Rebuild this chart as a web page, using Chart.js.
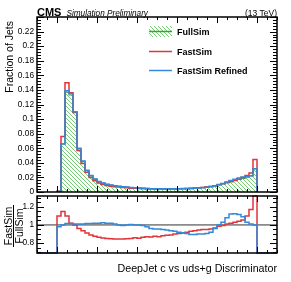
<!DOCTYPE html>
<html>
<head>
<meta charset="utf-8">
<script src="https://cdn.jsdelivr.net/npm/chart.js@4.4.1/dist/chart.umd.min.js"></script>
<style>
  html, body { margin: 0; padding: 0; background: #fff; }
  #wrap { position: relative; width: 291px; height: 282px; }
  canvas { position: absolute; left: 0; }
  #topChart { top: 0; }
  #ratioChart { top: 194px; }
</style>
</head>
<body>
<div id="wrap">
  <canvas id="topChart" width="291" height="194"></canvas>
  <canvas id="ratioChart" width="291" height="88"></canvas>
</div>
<script>
// binning of the discriminator (50 bins of 0.02 from 0 to 1)
const binLow = 0;
const binWidth = 0.02;

// fraction of jets per bin
const fullSim = [0.0008, 0.066, 0.137, 0.133, 0.109, 0.059, 0.042, 0.0295, 0.0222, 0.0176,
  0.0142, 0.0122, 0.0106, 0.0094, 0.0086, 0.0079, 0.0073, 0.0067, 0.0062, 0.0058,
  0.0055, 0.0052, 0.0050, 0.0048, 0.0047, 0.0046, 0.0045, 0.0045, 0.0045, 0.0046,
  0.0047, 0.0049, 0.0051, 0.0053, 0.0056, 0.0060, 0.0065, 0.0071, 0.0078, 0.0088,
  0.0102, 0.0115, 0.0128, 0.0142, 0.0156, 0.0172, 0.0188, 0.0205, 0.0222, 0.0320];
const fastSim = [0.0009, 0.076, 0.150, 0.136, 0.109, 0.057, 0.039, 0.027, 0.0198, 0.0154,
  0.0123, 0.0104, 0.0090, 0.0080, 0.0073, 0.0067, 0.0062, 0.0057, 0.0053, 0.0050,
  0.0047, 0.0045, 0.0044, 0.0042, 0.0041, 0.0040, 0.0040, 0.0040, 0.0040, 0.0041,
  0.0043, 0.0045, 0.0047, 0.0049, 0.0052, 0.0057, 0.0062, 0.0067, 0.0074, 0.0085,
  0.0100, 0.0114, 0.0129, 0.0145, 0.0161, 0.0179, 0.0198, 0.0226, 0.0260, 0.0445];
const fastSimRefined = [0.0008, 0.066, 0.139, 0.135, 0.110, 0.060, 0.0425, 0.030, 0.0225, 0.018,
  0.0145, 0.0125, 0.0108, 0.0096, 0.0087, 0.0079, 0.0073, 0.0067, 0.0062, 0.0058,
  0.0055, 0.0052, 0.0049, 0.0046, 0.0045, 0.0044, 0.0043, 0.0043, 0.0042, 0.0043,
  0.0043, 0.0045, 0.0046, 0.0047, 0.0050, 0.0054, 0.0059, 0.0064, 0.0072, 0.0084,
  0.0102, 0.0118, 0.0138, 0.0159, 0.0176, 0.0192, 0.0205, 0.0211, 0.0224, 0.0320];

// FastSim / FullSim ratios per bin
const ratioFast = [1.10, 1.15, 1.10, 1.02, 1.00, 0.96, 0.935, 0.91, 0.89, 0.875,
  0.865, 0.855, 0.85, 0.848, 0.845, 0.845, 0.845, 0.848, 0.85, 0.858,
  0.852, 0.865, 0.87, 0.868, 0.875, 0.87, 0.88, 0.885, 0.89, 0.90,
  0.905, 0.91, 0.92, 0.93, 0.935, 0.945, 0.95, 0.95, 0.955, 0.965,
  0.985, 0.995, 1.01, 1.02, 1.03, 1.04, 1.055, 1.10, 1.17, 1.40];
const ratioRefined = [0.98, 1.00, 1.015, 1.015, 1.01, 1.01, 1.01, 1.015, 1.015, 1.02,
  1.02, 1.025, 1.02, 1.02, 1.01, 1.00, 0.995, 1.00, 1.005, 1.00,
  1.00, 0.995, 0.98, 0.96, 0.955, 0.955, 0.95, 0.945, 0.935, 0.93,
  0.92, 0.915, 0.905, 0.895, 0.895, 0.90, 0.90, 0.905, 0.92, 0.96,
  1.00, 1.03, 1.08, 1.12, 1.125, 1.115, 1.09, 1.03, 1.01, 1.00];

// axis ranges and tick labels
const xRange = [-0.1, 1.1];
const yRange = [0, 0.24];
const ratioRange = [0.69, 1.32];
const xTickLabels = [0, 0.2, 0.4, 0.6, 0.8, 1];

const FONT = "'Liberation Sans', Arial, Helvetica, sans-serif";
const RED = '#e1343b';
const BLUE = '#3388dc';
const GREEN = '#3f9f3f';

function fmt(v) {
  return String(+v.toFixed(2));
}

function stepPoints(values) {
  const end = binLow + values.length * binWidth;
  const pts = [{x: binLow, y: 0}];
  values.forEach((v, i) => pts.push({x: binLow + i * binWidth, y: v}));
  pts.push({x: end, y: values[values.length - 1]});
  pts.push({x: end, y: 0});
  return pts;
}

function ratioPoints(values) {
  const lo = ratioRange[0], hi = ratioRange[1];
  const c = v => Math.min(Math.max(v, lo), hi);
  const end = binLow + values.length * binWidth;
  const pts = [{x: xRange[0], y: lo}, {x: binLow, y: lo}];
  values.forEach((v, i) => pts.push({x: binLow + i * binWidth, y: c(v)}));
  pts.push({x: end, y: c(values[values.length - 1])});
  pts.push({x: end, y: lo});
  pts.push({x: xRange[1], y: lo});
  return pts;
}

function hatchPattern(color) {
  const s = 4;
  const c = document.createElement('canvas');
  c.width = s; c.height = s;
  const g = c.getContext('2d');
  g.strokeStyle = color;
  g.lineWidth = 1;
  g.beginPath();
  g.moveTo(-1, -1); g.lineTo(s + 1, s + 1);
  g.moveTo(-1, s - 1); g.lineTo(1, s + 1);
  g.moveTo(s - 1, -1); g.lineTo(s + 1, 1);
  g.stroke();
  return g.createPattern(c, 'repeat');
}
const hatch = hatchPattern('#7acb7a');

// no automatic room for the end tick labels: the plot area is fixed
function fixScale(size, horizontal) {
  return s => {
    if (horizontal) { s.height = size; } else { s.width = size; }
    s.paddingTop = 0; s.paddingBottom = 0;
    s.paddingLeft = 0; s.paddingRight = 0;
  };
}

// inward ROOT-style ticks on all four sides plus the frame
function drawTicks(ctx, scale, a, horizontal, step, sub, major, minor) {
  const minorStep = step / sub;
  const start = Math.ceil(scale.min / minorStep - 1e-6);
  const stop = Math.floor(scale.max / minorStep + 1e-6);
  for (let k = start; k <= stop; k++) {
    const v = k * minorStep;
    const len = (k % sub === 0) ? major : minor;
    const p = Math.round(scale.getPixelForValue(v)) + 0.5;
    if (horizontal) {
      ctx.moveTo(p, a.bottom); ctx.lineTo(p, a.bottom - len);
      ctx.moveTo(p, a.top); ctx.lineTo(p, a.top + len);
    } else {
      ctx.moveTo(a.left, p); ctx.lineTo(a.left + len, p);
      ctx.moveTo(a.right, p); ctx.lineTo(a.right - len, p);
    }
  }
}

const frameTicks = {
  id: 'frameTicks',
  afterDraw(chart, args, opts) {
    const {ctx, chartArea: a, scales} = chart;
    ctx.save();
    ctx.strokeStyle = '#000';
    ctx.lineWidth = 1;
    ctx.beginPath();
    drawTicks(ctx, scales.x, a, true, 0.2, 4, opts.xMajor, opts.xMinor);
    drawTicks(ctx, scales.y, a, false, opts.yStep, opts.ySub, 7, 4);
    ctx.stroke();
    ctx.lineWidth = 1.5;
    ctx.strokeRect(a.left, a.top, a.right - a.left, a.bottom - a.top);
    ctx.restore();
  }
};

const topDecor = {
  id: 'topDecor',
  afterDraw(chart) {
    const {ctx} = chart;
    ctx.save();
    ctx.fillStyle = '#000';
    ctx.textBaseline = 'alphabetic';
    ctx.font = 'bold 11px ' + FONT;
    ctx.textAlign = 'left';
    ctx.fillText('CMS', 37, 15.5);
    ctx.font = 'italic 8.2px ' + FONT;
    ctx.fillText('Simulation Preliminary', 66.5, 15.5);
    ctx.font = '8.5px ' + FONT;
    ctx.textAlign = 'right';
    ctx.fillText('(13 TeV)', 277, 15.5);

    // y title
    ctx.save();
    ctx.translate(10, 21);
    ctx.rotate(-Math.PI / 2);
    ctx.font = '10.5px ' + FONT;
    ctx.textAlign = 'right';
    ctx.textBaseline = 'middle';
    ctx.fillText('Fraction of Jets', 0, 0);
    ctx.restore();

    // legend
    const x0 = 149, x1 = 172, tx = 177;
    ctx.fillStyle = hatch;
    ctx.fillRect(x0, 26, x1 - x0, 11);
    ctx.strokeStyle = GREEN;
    ctx.lineWidth = 1.5;
    ctx.beginPath();
    ctx.moveTo(x0, 31.5); ctx.lineTo(x1, 31.5);
    ctx.stroke();
    ctx.strokeStyle = RED;
    ctx.beginPath();
    ctx.moveTo(x0, 51.5); ctx.lineTo(x1, 51.5);
    ctx.stroke();
    ctx.strokeStyle = BLUE;
    ctx.beginPath();
    ctx.moveTo(x0, 70.5); ctx.lineTo(x1, 70.5);
    ctx.stroke();
    ctx.fillStyle = '#000';
    ctx.font = 'bold 9px ' + FONT;
    ctx.textAlign = 'left';
    ctx.textBaseline = 'middle';
    ctx.fillText('FullSim', tx, 33);
    ctx.fillText('FastSim', tx, 52.5);
    ctx.fillText('FastSim Refined', tx, 71.5);
    ctx.restore();
  }
};

const ratioDecor = {
  id: 'ratioDecor',
  afterDraw(chart) {
    const {ctx} = chart;
    ctx.save();
    ctx.fillStyle = '#000';
    ctx.font = '10.7px ' + FONT;
    ctx.textAlign = 'right';
    ctx.textBaseline = 'alphabetic';
    ctx.fillText('DeepJet c vs uds+g Discriminator', 277, 78);

    ctx.translate(13, 32);
    ctx.rotate(-Math.PI / 2);
    ctx.font = '10.5px ' + FONT;
    ctx.textAlign = 'center';
    ctx.textBaseline = 'alphabetic';
    ctx.fillText('FastSim', 0, -1.5);
    ctx.textBaseline = 'top';
    ctx.fillText('FullSim', 0, 1.5);
    ctx.lineWidth = 1;
    ctx.beginPath();
    ctx.moveTo(-21, 0.5); ctx.lineTo(21, 0.5);
    ctx.stroke();
    ctx.restore();
  }
};

const tickFont = {family: FONT, size: 8.3};

new Chart(document.getElementById('topChart'), {
  type: 'line',
  data: {
    datasets: [
      {
        label: 'FullSim',
        data: stepPoints(fullSim),
        stepped: true,
        borderColor: GREEN,
        borderWidth: 1.2,
        backgroundColor: hatch,
        fill: 'origin',
        pointRadius: 0,
        order: 3
      },
      {
        label: 'FastSim',
        data: stepPoints(fastSim),
        stepped: true,
        borderColor: RED,
        borderWidth: 1.5,
        fill: false,
        pointRadius: 0,
        order: 2
      },
      {
        label: 'FastSim Refined',
        data: stepPoints(fastSimRefined),
        stepped: true,
        borderColor: BLUE,
        borderWidth: 1.5,
        fill: false,
        pointRadius: 0,
        order: 1
      }
    ]
  },
  options: {
    responsive: false,
    animation: false,
    layout: {padding: {left: 0, right: 14, top: 17, bottom: 2}},
    plugins: {
      legend: {display: false},
      tooltip: {enabled: false},
      frameTicks: {xMajor: 6, xMinor: 3, yStep: 0.02, ySub: 5}
    },
    scales: {
      x: {type: 'linear', min: xRange[0], max: xRange[1], display: false},
      y: {
        min: yRange[0], max: yRange[1],
        grid: {display: false, drawTicks: false},
        border: {display: false},
        afterFit: fixScale(37, false),
        ticks: {
          stepSize: 0.02, padding: 3, color: '#000', font: tickFont,
          callback: v => (v > 0.23 ? '' : fmt(v))
        }
      }
    }
  },
  plugins: [frameTicks, topDecor]
});

new Chart(document.getElementById('ratioChart'), {
  type: 'line',
  data: {
    datasets: [
      {
        label: 'unity',
        data: [{x: xRange[0], y: 1}, {x: xRange[1], y: 1}],
        borderColor: '#333',
        borderWidth: 1,
        pointRadius: 0,
        order: 3
      },
      {
        label: 'FastSim',
        data: ratioPoints(ratioFast),
        stepped: true,
        borderColor: RED,
        borderWidth: 1.5,
        pointRadius: 0,
        clip: 2,
        order: 2
      },
      {
        label: 'FastSim Refined',
        data: ratioPoints(ratioRefined),
        stepped: true,
        borderColor: BLUE,
        borderWidth: 1.5,
        pointRadius: 0,
        clip: 2,
        order: 1
      }
    ]
  },
  options: {
    responsive: false,
    animation: false,
    layout: {padding: {left: 0, right: 14, top: 2, bottom: 0}},
    plugins: {
      legend: {display: false},
      tooltip: {enabled: false},
      frameTicks: {xMajor: 6, xMinor: 3, yStep: 0.2, ySub: 4}
    },
    scales: {
      x: {
        type: 'linear', min: xRange[0], max: xRange[1],
        grid: {display: false, drawTicks: false},
        border: {display: false},
        afterFit: fixScale(29, true),
        ticks: {
          stepSize: 0.2, includeBounds: false, padding: 2, color: '#000', font: tickFont,
          autoSkip: false, maxRotation: 0,
          callback: v => (xTickLabels.some(t => Math.abs(t - v) < 1e-6) ? fmt(v) : '')
        }
      },
      y: {
        min: ratioRange[0], max: ratioRange[1],
        grid: {display: false, drawTicks: false},
        border: {display: false},
        afterFit: fixScale(37, false),
        ticks: {
          stepSize: 0.2, includeBounds: false, padding: 3, color: '#000', font: tickFont,
          callback: v => (Math.abs(v * 5 - Math.round(v * 5)) < 1e-6 ? fmt(v) : '')
        }
      }
    }
  },
  plugins: [frameTicks, ratioDecor]
});
</script>
</body>
</html>
